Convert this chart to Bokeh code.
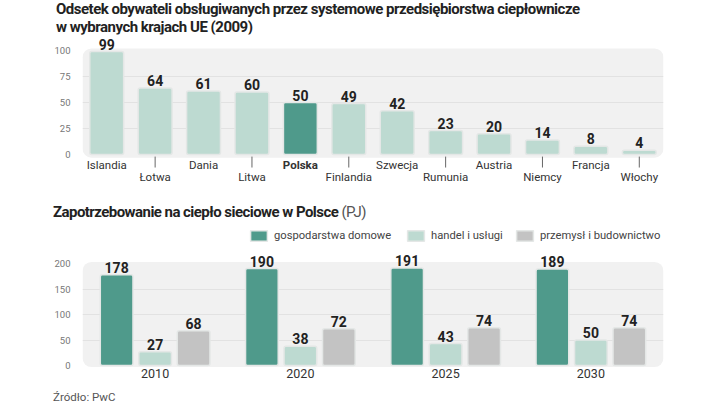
from bokeh.plotting import figure
from bokeh.models import (ColumnDataSource, FactorRange, FixedTicker, BoxAnnotation,
                          Div, Legend, LegendItem)
from bokeh.layouts import column
from bokeh.transform import dodge
from bokeh.core.properties import value
from bokeh.embed import file_html
from bokeh.resources import INLINE

# ---------------- data ----------------
countries = ["Islandia", "Łotwa", "Dania", "Litwa", "Polska", "Finlandia",
             "Szwecja", "Rumunia", "Austria", "Niemcy", "Francja", "Włochy"]
share = [99, 64, 61, 60, 50, 49, 42, 23, 20, 14, 8, 4]
highlight = "Polska"

years = ["2010", "2020", "2025", "2030"]
households = [178, 190, 191, 189]
trade = [27, 38, 43, 50]
industry = [68, 72, 74, 74]
series_names = ["gospodarstwa domowe", "handel i usługi", "przemysł i budownictwo"]

title1 = "Odsetek obywateli obsługiwanych przez systemowe przedsiębiorstwa ciepłownicze<br>w wybranych krajach UE (2009)"
title2_bold = "Zapotrzebowanie na ciepło sieciowe w Polsce"
title2_unit = "(PJ)"
source_text = "Źródło: PwC"

# ---------------- style ----------------
TEAL = "#4f9a8b"
LIGHT = "#bddad1"
GRAY = "#c3c3c3"
BG = "#f1f1f1"
GRID = "#e2e2e2"
OUTLINE = "#e4e7e6"
FONT = "Roboto"
W = 720

def base_fig(xr, yr, height, left, right, bottom=0):
    p = figure(x_range=xr, y_range=yr, width=W, height=height,
               output_backend="svg", toolbar_location=None,
               min_border_left=left, min_border_right=right,
               min_border_top=0, min_border_bottom=bottom)
    p.outline_line_color = None
    p.background_fill_color = "white"
    p.border_fill_color = "white"
    p.xgrid.visible = False
    p.yaxis.axis_line_color = None
    p.yaxis.major_tick_line_color = None
    p.yaxis.minor_tick_line_color = None
    p.yaxis.major_label_text_font = FONT
    p.yaxis.major_label_text_font_size = "9.5px"
    p.yaxis.major_label_text_color = "#777777"
    p.yaxis.major_label_standoff = 6
    p.ygrid.grid_line_color = GRID
    p.ygrid.grid_line_width = 1
    return p

# ---------------- top chart ----------------
div1 = Div(text=f'<div style="font-family:{FONT};font-weight:bold;font-size:15px;'
                f'line-height:18px;color:#222;padding-left:56px;padding-top:0px;'
                f'letter-spacing:-0.5px">{title1}</div>',
           width=W, height=34, margin=0)

p1 = base_fig(FactorRange(factors=countries), (-34.6, 115.4), 156, left=82, right=55)
p1.xaxis.visible = False
p1.yaxis.ticker = FixedTicker(ticks=[0, 25, 50, 75, 100])
p1.ygrid.ticker = FixedTicker(ticks=[25, 50, 75])
p1.add_layout(BoxAnnotation(bottom=-3, top=102, fill_color=BG, fill_alpha=1,
                            line_color=None, border_radius=9, level="image"))

src1 = ColumnDataSource(dict(
    c=countries, v=share,
    color=[TEAL if c == highlight else LIGHT for c in countries],
    style=["bold" if c == highlight else "normal" for c in countries],
    ly=[-3.5 if i % 2 == 0 else -14.5 for i in range(len(countries))],
    lab=[str(v) for v in share],
))
p1.vbar(x="c", top="v", bottom=0, width=0.7, source=src1, fill_color="color",
        line_color=OUTLINE, line_width=1.5, border_radius=2)
p1.text(x="c", y="v", text="lab", source=src1, text_align="center",
        text_baseline="bottom", y_offset=-2, text_font=value(FONT),
        text_font_style="bold", text_font_size="14px", text_color="#222222")
p1.text(x="c", y="ly", text="c", source=src1, text_align="center",
        text_baseline="top", text_font=value(FONT), text_font_style="style",
        text_font_size="11.5px", text_color="#333333")
odd = [c for i, c in enumerate(countries) if i % 2 == 1]
p1.segment(x0=odd, y0=[-2] * len(odd), x1=odd, y1=[-12.5] * len(odd),
           line_color="#666666", line_width=1)

# ---------------- bottom chart ----------------
div2 = Div(text=f'<div style="font-family:{FONT};font-size:15px;line-height:18px;'
                f'color:#222;padding-left:53px;padding-top:13px;letter-spacing:-0.55px">'
                f'<b>{title2_bold}</b> <span style="color:#555">{title2_unit}</span></div>',
           width=W, height=32, margin=0)

p2 = base_fig(FactorRange(factors=years), (-3.9, 280.4), 163, left=79, right=57, bottom=18)
p2.yaxis.ticker = FixedTicker(ticks=[0, 50, 100, 150, 200])
p2.ygrid.ticker = FixedTicker(ticks=[50, 100, 150])
p2.xaxis.axis_line_color = None
p2.xaxis.major_tick_line_color = None
p2.xaxis.minor_tick_line_color = None
p2.xaxis.major_tick_out = 0
p2.xaxis.major_label_standoff = 1
p2.xaxis.major_label_text_font = FONT
p2.xaxis.major_label_text_font_size = "12.5px"
p2.xaxis.major_label_text_color = "#333333"
p2.add_layout(BoxAnnotation(bottom=-3, top=203, fill_color=BG, fill_alpha=1,
                            line_color=None, border_radius=9, level="image"))

src2 = ColumnDataSource(dict(year=years, h=households, t=trade, i=industry,
                             hl=[str(v) for v in households],
                             tl=[str(v) for v in trade],
                             il=[str(v) for v in industry]))
# legend item left edges (px from the plot frame's left) and bottom (px from frame bottom)
legend_x = [166, 323, 432]
legend_y = 125
for k, (col, lab, off, color, name) in enumerate(
        [("h", "hl", -0.265, TEAL, series_names[0]),
         ("t", "tl", 0.0, LIGHT, series_names[1]),
         ("i", "il", 0.265, GRAY, series_names[2])]):
    r = p2.vbar(x=dodge("year", off, range=p2.x_range), top=col, bottom=0,
                width=0.225, source=src2, fill_color=color, line_color=OUTLINE,
                line_width=1.5, border_radius=2)
    p2.text(x=dodge("year", off, range=p2.x_range), y=col, text=lab, source=src2,
            text_align="center", text_baseline="bottom", y_offset=-2,
            text_font=value(FONT), text_font_style="bold", text_font_size="14px",
            text_color="#222222")
    lg = Legend(items=[LegendItem(label=name, renderers=[r])],
                location=(legend_x[k], legend_y), orientation="horizontal",
                background_fill_alpha=0, border_line_color=None,
                label_text_font=FONT, label_text_font_size="11.2px",
                label_text_color="#444444", glyph_width=21, glyph_height=13,
                spacing=0, label_standoff=5, margin=0, padding=0)
    p2.add_layout(lg)

div3 = Div(text=f'<div style="font-family:{FONT};font-size:11.5px;line-height:14px;'
                f'color:#555;padding-left:53px;padding-top:5px">{source_text}</div>',
           width=W, height=20, margin=0)

layout = column(div1, p1, div2, p2, div3, spacing=0)
open("out.html", "w").write(file_html(layout, INLINE))
